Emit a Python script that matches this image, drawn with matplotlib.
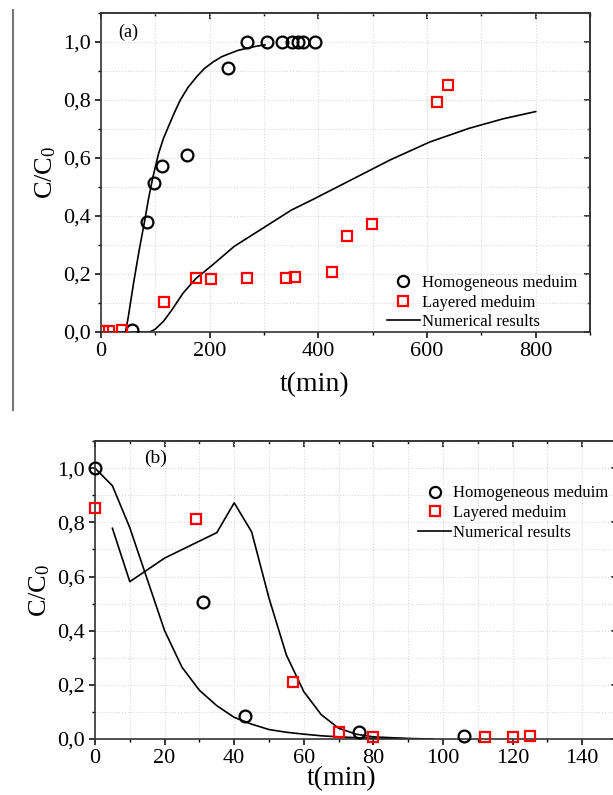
import matplotlib.pyplot as plt
import matplotlib.ticker as mticker
from matplotlib.lines import Line2D

plt.rcParams['font.family'] = ['Liberation Serif', 'DejaVu Serif']
plt.rcParams['mathtext.fontset'] = 'custom'
plt.rcParams['mathtext.rm'] = 'Liberation Serif'
plt.rcParams['mathtext.it'] = 'Liberation Serif:italic'

# ---- panel (a) : breakthrough ----
a_homo_t = [57, 84, 98, 112, 158, 233, 269, 306, 334, 352, 363, 372, 394]
a_homo_c = [0.008, 0.38, 0.513, 0.572, 0.61, 0.911, 1.0, 1.0, 1.0, 1.0, 1.0, 1.0, 1.0]
a_layer_t = [3, 15, 38, 115, 174, 203, 269, 340, 357, 425, 453, 498, 619, 638]
a_layer_c = [0.003, 0.005, 0.008, 0.105, 0.185, 0.183, 0.185, 0.185, 0.191, 0.206,
             0.332, 0.372, 0.792, 0.853]
a_num1_t = [0, 45, 50, 60, 70, 80, 87, 95, 106, 115, 124, 135, 146, 160, 176, 190,
            207, 222, 238, 252, 268, 285, 302]
a_num1_c = [0, 0, 0.05, 0.17, 0.28, 0.38, 0.455, 0.53, 0.616, 0.668, 0.708, 0.756,
            0.8, 0.843, 0.88, 0.908, 0.932, 0.949, 0.961, 0.971, 0.978, 0.985, 0.99]
a_num2_t = [55, 90, 100, 115, 130, 151, 175, 202, 245, 303, 350, 389, 461, 533,
            605, 677, 740, 800]
a_num2_c = [0, 0, 0.01, 0.037, 0.075, 0.134, 0.185, 0.226, 0.295, 0.364, 0.42,
            0.456, 0.525, 0.594, 0.655, 0.702, 0.735, 0.76]

# ---- panel (b) : elution ----
b_homo_t = [0, 31, 43, 76, 106]
b_homo_c = [1.0, 0.505, 0.085, 0.027, 0.012]
b_layer_t = [0, 29, 57, 70, 80, 112, 120, 125]
b_layer_c = [0.852, 0.813, 0.212, 0.025, 0.009, 0.009, 0.009, 0.012]
b_num1_t = [0, 5, 10, 15, 20, 25, 30, 35, 40, 45, 50, 55, 60, 65, 70, 75, 80, 90, 97]
b_num1_c = [1.0, 0.935, 0.78, 0.59, 0.40, 0.265, 0.18, 0.123, 0.08, 0.055, 0.035,
            0.025, 0.018, 0.012, 0.008, 0.005, 0.003, 0.001, 0.0]
b_num2_t = [5, 10, 20, 35, 40, 45, 50, 55, 60, 65, 70, 75, 80, 90, 97]
b_num2_c = [0.778, 0.581, 0.668, 0.762, 0.872, 0.765, 0.52, 0.31, 0.175, 0.09,
            0.04, 0.018, 0.008, 0.002, 0.0]

labels = ['Homogeneous meduim', 'Layered meduim', 'Numerical results']


def comma(v, pos):
    return ('%.1f' % v).replace('.', ',')


def style_axes(ax, xmax, xmaj, xmin):
    ax.set_xlim(0, xmax)
    ax.set_ylim(0, 1.1)
    ax.xaxis.set_major_locator(mticker.MultipleLocator(xmaj))
    ax.xaxis.set_minor_locator(mticker.MultipleLocator(xmin))
    ax.yaxis.set_major_locator(mticker.MultipleLocator(0.2))
    ax.yaxis.set_minor_locator(mticker.MultipleLocator(0.1))
    ax.yaxis.set_major_formatter(mticker.FuncFormatter(comma))
    ax.grid(True, which='both', color='#d8d8d8', linestyle=':', linewidth=0.8)
    ax.tick_params(which='major', direction='out', length=4, width=1.1,
                   labelsize=16, pad=3)
    ax.tick_params(which='minor', direction='out', length=2.5, width=1.0)
    for s in ax.spines.values():
        s.set_linewidth(1.2)
        s.set_color('#333333')
    top = ax.secondary_xaxis('top')
    top.xaxis.set_major_locator(mticker.MultipleLocator(xmaj))
    top.xaxis.set_minor_locator(mticker.MultipleLocator(xmin))
    top.tick_params(which='major', direction='in', length=4, width=1.1, labeltop=False)
    top.tick_params(which='minor', direction='in', length=2.5, width=1.0)
    right = ax.secondary_yaxis('right')
    right.yaxis.set_major_locator(mticker.MultipleLocator(0.2))
    right.yaxis.set_minor_locator(mticker.MultipleLocator(0.1))
    right.tick_params(which='major', direction='in', length=4, width=1.1, labelright=False)
    right.tick_params(which='minor', direction='in', length=2.5, width=1.0)
    for sec in (top, right):
        for s in sec.spines.values():
            s.set_linewidth(1.2)
            s.set_color('#333333')


fig = plt.figure(figsize=(6.13, 7.95), dpi=100)

# panel (a)
ax1 = fig.add_axes([0.1648, 0.5824, 0.7977, 0.4013])
ax1.plot(a_num1_t, a_num1_c, color='black', lw=1.2, zorder=2)
ax1.plot(a_num2_t, a_num2_c, color='black', lw=1.2, zorder=2)
ax1.plot(a_homo_t, a_homo_c, 'o', mfc='none', mec='black', ms=8.5, mew=1.6, zorder=3)
ax1.plot(a_layer_t, a_layer_c, 's', mfc='none', mec='red', ms=7.5, mew=1.6, zorder=3)
style_axes(ax1, 900, 200, 100)
ax1.set_xlabel('t(min)', fontsize=20)
ax1.xaxis.set_label_coords(0.436, -0.125)
ax1.set_ylabel('C/C$_0$', fontsize=19, labelpad=4)
ax1.text(0.035, 0.965, '(a)', transform=ax1.transAxes, fontsize=13, va='top')

# panel (b)
ax2 = fig.add_axes([0.155, 0.0704, 0.8515, 0.3748])
ax2.plot(b_num1_t, b_num1_c, color='black', lw=1.2, zorder=2)
ax2.plot(b_num2_t, b_num2_c, color='black', lw=1.2, zorder=2)
ax2.plot(b_homo_t, b_homo_c, 'o', mfc='none', mec='black', ms=8.5, mew=1.6, zorder=3,
         clip_on=False)
ax2.plot(b_layer_t, b_layer_c, 's', mfc='none', mec='red', ms=7.5, mew=1.6, zorder=3,
         clip_on=False)
style_axes(ax2, 150, 20, 10)
ax2.set_xlabel('t(min)', fontsize=20)
ax2.xaxis.set_label_coords(0.473, -0.09)
ax2.set_ylabel('C/C$_0$', fontsize=19, labelpad=4)
ax2.text(0.095, 0.97, '(b)', transform=ax2.transAxes, fontsize=14, va='top')

handles = [Line2D([], [], ls='none', marker='o', mfc='none', mec='black', ms=8, mew=1.6),
           Line2D([], [], ls='none', marker='s', mfc='none', mec='red', ms=7, mew=1.6),
           Line2D([], [], color='black', lw=1.2)]
ax1.legend(handles, labels, loc='upper left', bbox_to_anchor=(0.567, 0.205),
           frameon=False, fontsize=12, borderpad=0, handlelength=2.0,
           handletextpad=0.1, labelspacing=0.22)
ax2.legend(handles, labels, loc='upper left', bbox_to_anchor=(0.603, 0.879),
           frameon=False, fontsize=12, borderpad=0, handlelength=2.0,
           handletextpad=0.1, labelspacing=0.22)

# vertical rule at the left of the upper panel
fig.add_artist(Line2D([0.022, 0.022], [1 - 10 / 795, 1 - 410 / 795],
                      color='#777777', lw=1.5))

fig.savefig('out.png', dpi=100)
